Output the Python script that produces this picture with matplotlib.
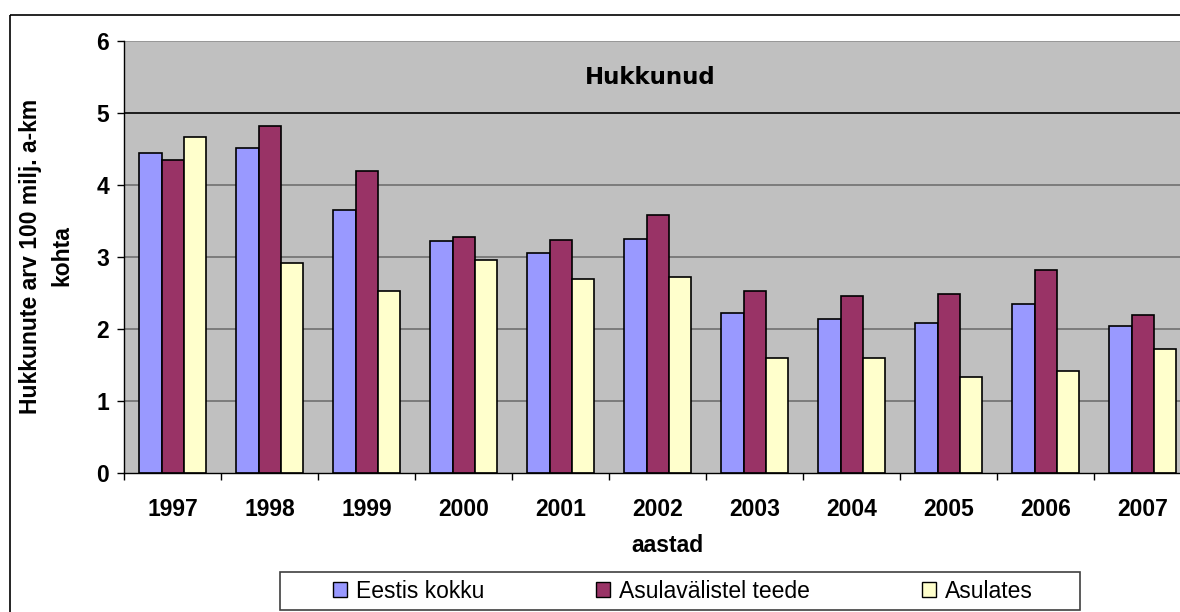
import matplotlib.pyplot as plt
import numpy as np
from matplotlib.patches import Rectangle, Patch

# Hukkunute arv 100 milj. autokilomeetri kohta
aastad = ['1997', '1998', '1999', '2000', '2001', '2002',
          '2003', '2004', '2005', '2006', '2007']
eestis_kokku = [4.45, 4.51, 3.65, 3.22, 3.05, 3.25, 2.22, 2.14, 2.08, 2.34, 2.04]
asulavalistel = [4.35, 4.82, 4.20, 3.28, 3.23, 3.58, 2.53, 2.46, 2.48, 2.82, 2.19]
asulates = [4.67, 2.92, 2.53, 2.95, 2.69, 2.72, 1.59, 1.59, 1.33, 1.41, 1.72]
seeria_nimed = ['Eestis kokku', 'Asulavälistel teede', 'Asulates']
varvid = ['#9999FF', '#993366', '#FFFFCC']

W, H = 1180, 612
fig = plt.figure(figsize=(W / 100, H / 100), dpi=100)
fig.patch.set_facecolor('white')

def px(x, y):
    # piksli koordinaadid (ülevalt vasakult) -> joonise murdosa
    return x / W, (H - y) / H

# välimine raam
fig.patches.append(Rectangle(px(10, 15), 2, -1, transform=fig.transFigure,
                             fill=False, edgecolor='black', lw=1.2))

ax = fig.add_axes([124.3 / W, (H - 472.7) / H, 1067 / W, 431.7 / H])
ax.set_facecolor('#C0C0C0')

x = np.arange(len(aastad))
laius = 0.23
for i, (andmed, v) in enumerate(zip([eestis_kokku, asulavalistel, asulates], varvid)):
    ax.bar(x + (i - 1) * laius, andmed, laius, color=v, edgecolor='black',
           linewidth=1.2, zorder=3)

ax.set_xlim(-0.5, len(aastad) - 0.5)
ax.set_ylim(0, 6)

# ruudustik
for yv in range(1, 7):
    c = 'black' if yv == 5 else ('#909090' if yv == 6 else '#707070')
    ax.axhline(yv, color=c, lw=1.2, zorder=1)

for s in ['top', 'right']:
    ax.spines[s].set_visible(False)
for s in ['left', 'bottom']:
    ax.spines[s].set_color('black')
    ax.spines[s].set_linewidth(1.0)
    ax.spines[s].set_zorder(4)

ax.set_yticks(range(0, 7))
ax.tick_params(axis='y', length=5, width=1, direction='out', pad=6)
ax.set_xticks(x)
ax.set_xticks(np.arange(-0.5, len(aastad), 1), minor=True)
ax.tick_params(axis='x', which='major', length=0, pad=18.5)
ax.tick_params(axis='x', which='minor', length=5, width=1, direction='out')
ax.set_xticklabels(aastad)
for lbl in ax.get_xticklabels() + ax.get_yticklabels():
    lbl.set_fontfamily('Liberation Sans')
    lbl.set_fontweight('bold')
    lbl.set_fontsize(16.5)

fig.text(*px(650, 78), 'Hukkunud', ha='center', va='center',
         fontfamily='DejaVu Sans', fontweight='bold', fontsize=16.5)
fig.text(*px(46.5, 256), 'Hukkunute arv 100 milj. a-km\nkohta', rotation=90,
         ha='center', va='center', multialignment='center', linespacing=1.45,
         fontfamily='Liberation Sans', fontweight='bold', fontsize=16.5)
fig.text(*px(667, 545), 'aastad', ha='center', va='center',
         fontfamily='Liberation Sans', fontweight='bold', fontsize=16.5)

# legend
fig.patches.append(Rectangle(px(280, 610), 800 / W, 38 / H, transform=fig.transFigure,
                             fill=False, edgecolor='#404040', lw=1.2))
kasitsejad = [Patch(facecolor=v, edgecolor='black', lw=1.0) for v in varvid]
fig.legend(kasitsejad, seeria_nimed, loc='center', bbox_to_anchor=px(683, 591),
           ncol=3, frameon=False, handlelength=0.6, handleheight=0.6,
           handletextpad=0.4, columnspacing=4.9,
           prop={'family': 'Liberation Sans', 'size': 16.5})

fig.savefig('out.png', dpi=100)
